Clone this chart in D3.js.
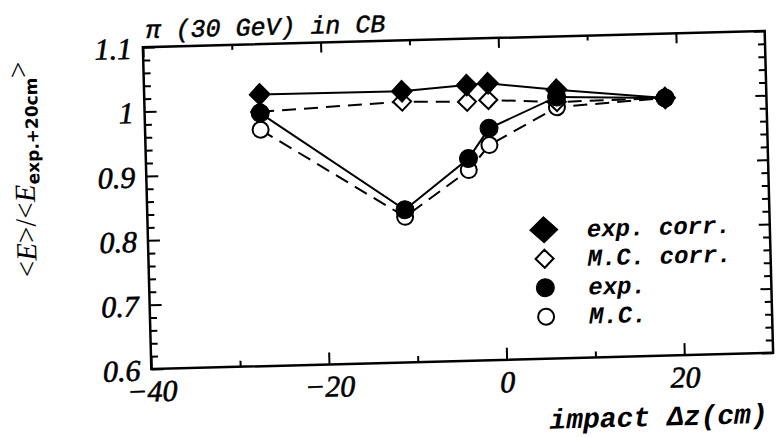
<!DOCTYPE html>
<html>
<head>
<meta charset="utf-8">
<script src="https://cdn.jsdelivr.net/npm/d3@7"></script>
<style>
  body { margin: 0; background: #fff; }
  svg { display: block; }
</style>
</head>
<body>
<div id="chart"></div>
<script>
// impact position (cm)
const zPos = [-27, -11, -3.7, -1.3, 6.4, 18.6];
// normalised mean energy <E>/<E(+20cm)>
const expCorr = [1.022, 1.021, 1.028, 1.030, 1.017, 1.0];
const mcCorr = [0.995, 1.005, 1.002, 1.004, 0.998, 1.0];
const expVals = [0.993, 0.837, 0.914, 0.960, 1.006, 1.0];
const mcVals = [0.967, 0.826, 0.896, 0.934, 0.990, 1.0];

const yTicks = [0.6, 0.7, 0.8, 0.9, 1.0, 1.1];
const xTicks = [-40, -20, 0, 20];
const xMinorTicks = [-30, -10, 10];
const legendLabels = ["exp. corr.", "M.C. corr.", "exp.", "M.C."];

function draw() {
    var width = 778, height = 437;
    var margin = { top: 39, right: 9, bottom: 76, left: 147 };

    var x = d3.scaleLinear().domain([-40, 30]).range([margin.left, width - margin.right]);
    var y = d3.scaleLinear().domain([0.6, 1.1]).range([height - margin.bottom, margin.top]);

    var svg = d3.select("#chart").append("svg")
        .attr("width", width)
        .attr("height", height)
        .style("background-color", "#fff");

    // the scanned figure is slightly tilted
    var g = svg.append("g")
        .attr("transform", "rotate(-1.5,458,200)");

    var serif = "'Liberation Serif', 'DejaVu Serif', serif";
    var mono = "'Liberation Mono', 'DejaVu Sans Mono', monospace";

    var fmt = function (d) {
        var s = String(+d.toFixed(1));
        return s.replace("-", "\u2212");
    };

    // Y axis (left), ticks pointing inward
    var yAxis = d3.axisLeft(y).tickValues(yTicks).tickSizeInner(-12).tickSizeOuter(0)
        .tickPadding(11).tickFormat(fmt);
    g.append("g")
        .attr("transform", "translate(" + margin.left + ",0)")
        .call(yAxis)
        .call(a => a.select(".domain").remove())
        .selectAll("text")
        .style("font-family", serif)
        .style("font-style", "italic")
        .style("font-size", "30px")
        .attr("stroke", "#000")
        .attr("stroke-width", 0.6)
        .attr("dy", "0.36em");

    // right axis ticks
    g.append("g")
        .attr("transform", "translate(" + (width - margin.right) + ",0)")
        .call(d3.axisRight(y).tickValues(yTicks).tickSizeInner(-11).tickSizeOuter(0).tickFormat(""))
        .call(a => a.select(".domain").remove());

    // minor y ticks
    var yMinor = d3.range(0.62, 1.1, 0.02).filter(v => Math.abs(v * 10 - Math.round(v * 10)) > 0.01);
    g.append("g")
        .attr("transform", "translate(" + margin.left + ",0)")
        .call(d3.axisLeft(y).tickValues(yMinor).tickSizeInner(-7).tickSizeOuter(0).tickFormat(""))
        .call(a => a.select(".domain").remove());
    g.append("g")
        .attr("transform", "translate(" + (width - margin.right) + ",0)")
        .call(d3.axisRight(y).tickValues(yMinor).tickSizeInner(-7).tickSizeOuter(0).tickFormat(""))
        .call(a => a.select(".domain").remove());

    // X axis (bottom)
    var xAxis = d3.axisBottom(x).tickValues(xTicks).tickSizeInner(-12).tickSizeOuter(0)
        .tickPadding(11).tickFormat(fmt);
    g.append("g")
        .attr("transform", "translate(0," + (height - margin.bottom) + ")")
        .call(xAxis)
        .call(a => a.select(".domain").remove())
        .selectAll("text")
        .style("font-family", serif)
        .style("font-style", "italic")
        .style("font-size", "30px")
        .attr("stroke", "#000")
        .attr("stroke-width", 0.6);
    g.append("g")
        .attr("transform", "translate(0," + (height - margin.bottom) + ")")
        .call(d3.axisBottom(x).tickValues(xMinorTicks).tickSizeInner(-6).tickSizeOuter(0).tickFormat(""))
        .call(a => a.select(".domain").remove());
    // top ticks
    g.append("g")
        .attr("transform", "translate(0," + margin.top + ")")
        .call(d3.axisTop(x).tickValues(xTicks).tickSizeInner(-10).tickSizeOuter(0).tickFormat(""))
        .call(a => a.select(".domain").remove());
    g.append("g")
        .attr("transform", "translate(0," + margin.top + ")")
        .call(d3.axisTop(x).tickValues(xMinorTicks).tickSizeInner(-5).tickSizeOuter(0).tickFormat(""))
        .call(a => a.select(".domain").remove());

    g.selectAll(".tick line").attr("stroke", "#000").attr("stroke-width", 2);

    // frame
    g.append("rect")
        .attr("x", x(-40))
        .attr("y", y(1.1))
        .attr("width", x(30) - x(-40))
        .attr("height", y(0.6) - y(1.1))
        .attr("fill", "none")
        .attr("stroke", "#000")
        .attr("stroke-width", 2.5);

    // series
    var series = [
        { vals: expCorr, dash: null, mark: "diamond", filled: true },
        { vals: mcCorr, dash: "14,8", mark: "diamond", filled: false },
        { vals: expVals, dash: null, mark: "circle", filled: true },
        { vals: mcVals, dash: "14,8", mark: "circle", filled: false }
    ];

    var line = d3.line().x((d, i) => x(zPos[i])).y(d => y(d));

    series.forEach(function (s) {
        g.append("path")
            .datum(s.vals)
            .attr("d", line)
            .attr("fill", "none")
            .attr("stroke", "#000")
            .attr("stroke-width", 2)
            .attr("stroke-dasharray", s.dash);
    });

    function diamond(w, h) {
        return "M0," + (-h) + "L" + w + ",0L0," + h + "L" + (-w) + ",0Z";
    }

    function addMarker(sel, s, big) {
        if (s.mark === "diamond") {
            sel.append("path")
                .attr("d", s.filled ? diamond(big ? 14 : 10.5, big ? 13 : 11) : diamond(9, 9))
                .attr("fill", s.filled ? "#000" : "#fff")
                .attr("stroke", "#000")
                .attr("stroke-width", s.filled ? 1 : 2);
        } else {
            sel.append("circle")
                .attr("r", s.filled ? 9 : 8)
                .attr("fill", s.filled ? "#000" : "#fff")
                .attr("stroke", "#000")
                .attr("stroke-width", s.filled ? 1 : 2);
        }
    }

    // open markers below, filled on top
    [series[3], series[1], series[2], series[0]].forEach(function (s) {
        g.append("g").selectAll("g")
            .data(s.vals)
            .enter()
            .append("g")
            .attr("transform", (d, i) => "translate(" + x(zPos[i]) + "," + y(d) + ")")
            .each(function () { addMarker(d3.select(this), s, false); });
    });

    // legend
    var legend = g.append("g");
    series.forEach(function (s, i) {
        var row = legend.append("g")
            .attr("transform", "translate(543," + (232 + i * 29) + ")");
        addMarker(row, s, i === 0);
        row.append("text")
            .attr("x", 43)
            .attr("y", 8)
            .style("font-family", mono)
            .style("font-style", "italic")
            .style("font-weight", "bold")
            .style("font-size", "24px")
            .text(legendLabels[i]);
    });

    // title
    g.append("text")
        .attr("x", 150)
        .attr("y", 30)
        .style("font-family", mono)
        .style("font-style", "italic")
        .style("font-size", "25px")
        .attr("stroke", "#000")
        .attr("stroke-width", 0.5)
        .text("\u03c0 (30 GeV) in CB");

    // x axis title
    g.append("text")
        .attr("x", 762)
        .attr("y", 431)
        .attr("text-anchor", "end")
        .style("font-family", mono)
        .style("font-style", "italic")
        .style("font-weight", "bold")
        .style("font-size", "28px")
        .text("impact \u0394z(cm)");

    // y axis title
    var yt = g.append("text")
        .attr("transform", "translate(35,158) rotate(-90)")
        .attr("text-anchor", "middle")
        .style("font-family", serif)
        .style("font-size", "29px");
    yt.append("tspan").text("<");
    yt.append("tspan").style("font-style", "italic").text("E");
    yt.append("tspan").text(">/<");
    yt.append("tspan").style("font-style", "italic").text("E");
    yt.append("tspan")
        .attr("dy", "0.3em")
        .style("font-family", "'DejaVu Sans', sans-serif")
        .style("font-weight", "bold")
        .style("font-size", "17px")
        .text("exp.+20cm");
    yt.append("tspan").attr("dy", "-0.3em").text(">");
}

document.addEventListener("DOMContentLoaded", draw);
</script>
</body>
</html>
